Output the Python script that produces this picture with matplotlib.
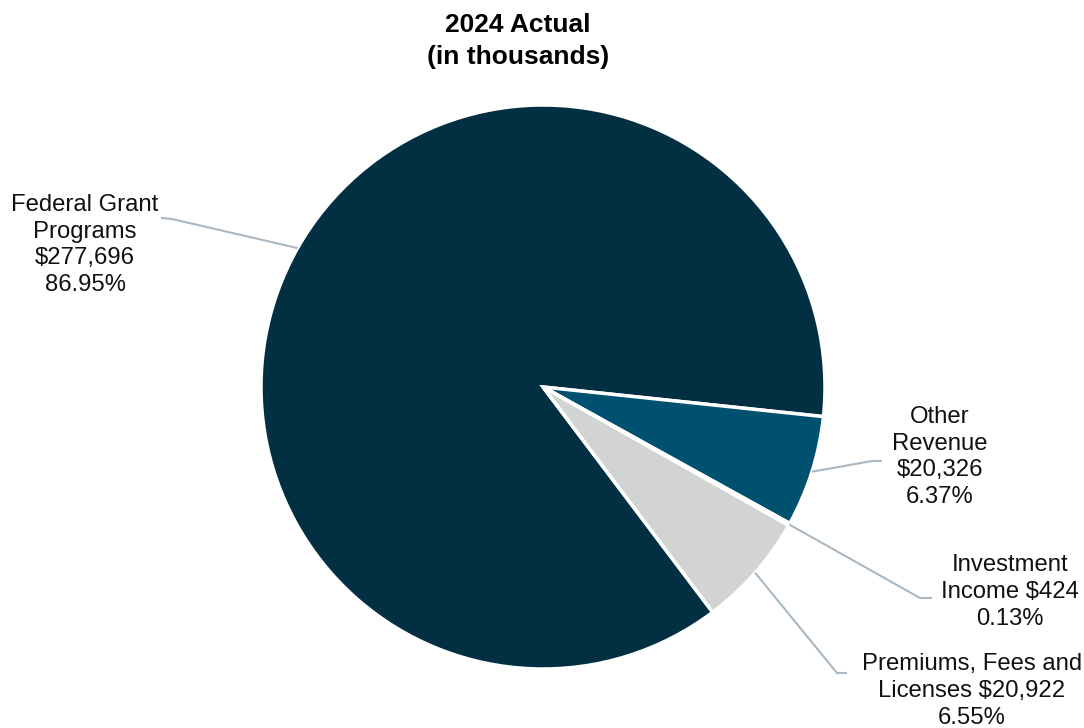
import numpy as np
import matplotlib.pyplot as plt

# revenue sources, 2024 actual (in thousands)
names = ["Federal Grant\nPrograms", "Other\nRevenue", "Investment\nIncome", "Premiums, Fees and\nLicenses"]
amounts = [277696, 20326, 424, 20922]
percents = [86.95, 6.37, 0.13, 6.55]
name_sep = ["\n", "\n", " ", " "]
colors = ["#032f43", "#00506f", "#7fa7bc", "#d2d4d3"]

plt.rcParams['font.family'] = ['Liberation Sans', 'DejaVu Sans']

W, H = 1084, 728
CX, CY, R = 543, 387, 282


def px(x, y):
    # pixel position -> data coords (pie centred at 0,0 with radius 1)
    return (x - CX) / R, (CY - y) / R


fig = plt.figure(figsize=(W / 100, H / 100), dpi=100)
ax = fig.add_axes([0, 0, 1, 1])

wedges, _ = ax.pie(amounts, colors=colors, startangle=-53, counterclock=False,
                   radius=1, center=(0, 0),
                   wedgeprops=dict(edgecolor="white", linewidth=2.5))
ax.set_xlim(px(0, 0)[0], px(W, 0)[0])
ax.set_ylim(px(0, H)[1], px(0, 0)[1])
ax.set_aspect("auto")
ax.axis("off")

# label centres and leader elbows (pixels)
text_pos = [(85, 245), (940, 457), (1010, 592), (972, 691)]
elbows = [((172, 219), (161, 218)), ((872, 461), (882, 461)),
          ((920, 598), (932, 598)), ((837, 673), (847, 673))]

for w, name, sep, amt, pct, tp, (e1, e2) in zip(wedges, names, name_sep, amounts, percents, text_pos, elbows):
    mid = np.deg2rad((w.theta1 + w.theta2) / 2)
    x0, y0 = np.cos(mid), np.sin(mid)
    xs = [x0, px(*e1)[0], px(*e2)[0]]
    ys = [y0, px(*e1)[1], px(*e2)[1]]
    ax.plot(xs, ys, color="#a9b8c3", lw=1.5, solid_capstyle="butt")
    label = f"{name}{sep}${amt:,}\n{pct:.2f}%"
    tx, ty = px(*tp)
    ax.text(tx, ty, label, ha="center", va="center", fontsize=17.2,
            linespacing=1.28, color="#111111")

fig.text(518 / W, 1 - 41 / H, "2024 Actual\n(in thousands)", ha="center", va="center",
         fontsize=19, fontweight="bold", linespacing=1.42)

fig.savefig("out.png", dpi=100)
